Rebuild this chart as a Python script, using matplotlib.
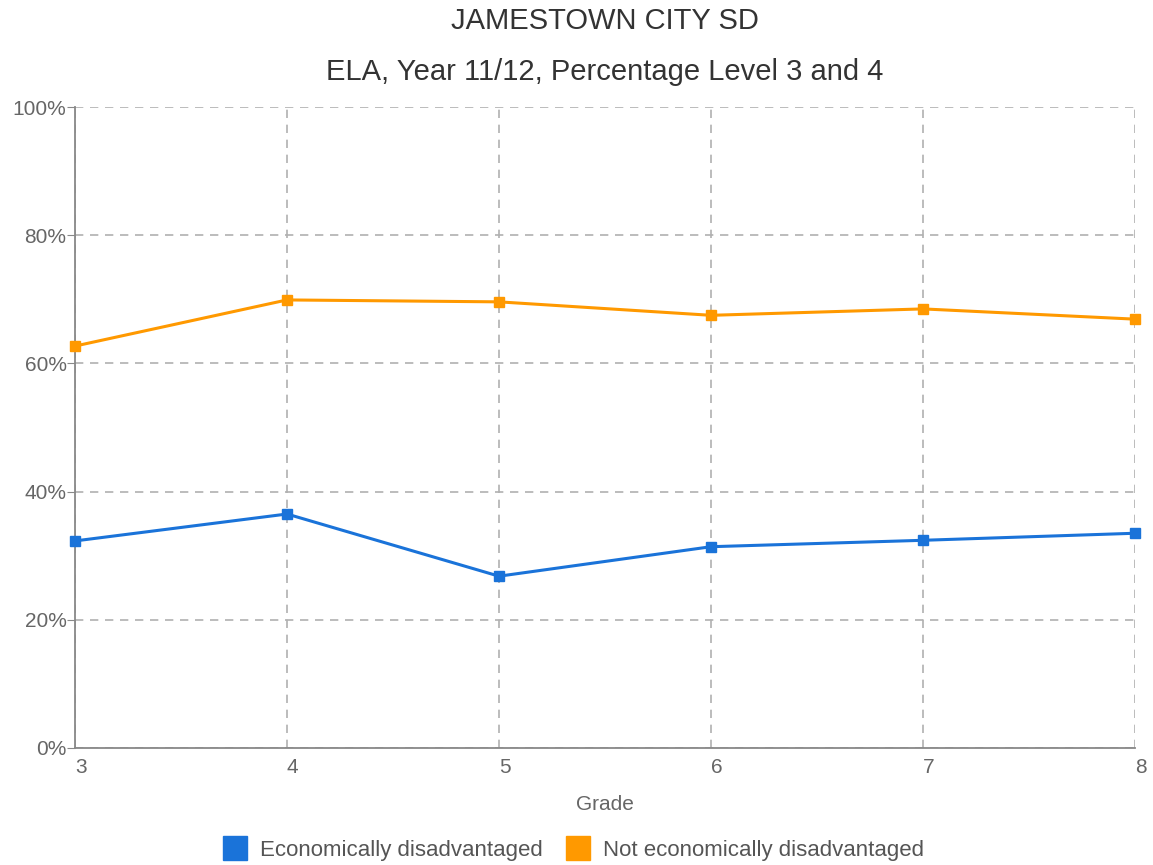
import matplotlib.pyplot as plt
import matplotlib.transforms as mtransforms
from matplotlib.ticker import FuncFormatter

plt.rcParams['font.family'] = ['Liberation Sans', 'DejaVu Sans']

grades = [3, 4, 5, 6, 7, 8]
econ_dis = [32.3, 36.5, 26.8, 31.4, 32.4, 33.5]
not_econ_dis = [62.7, 69.9, 69.6, 67.5, 68.5, 66.9]
series_names = ['Economically disadvantaged', 'Not economically disadvantaged']
colors = ['#1a73d9', '#ff9900']

fig = plt.figure(figsize=(11.53, 8.65), dpi=100)
ax = fig.add_axes([0.065, 0.1353, 0.9195, 0.741])

for vals, name, c in zip([econ_dis, not_econ_dis], series_names, colors):
    ax.plot(grades, vals, color=c, lw=2.2, marker='s', ms=7, label=name,
            clip_on=False, zorder=3)

ax.set_xlim(3, 8)
ax.set_ylim(0, 100)
ax.set_yticks(range(0, 101, 20))
ax.yaxis.set_major_formatter(FuncFormatter(lambda v, p: f'{int(v)}%'))
ax.set_xticks(grades)

ax.grid(True, color='#b0b0b0', ls=(0, (5, 4)), lw=1.2)
for side in ['top', 'right']:
    ax.spines[side].set_visible(False)
for side in ['left', 'bottom']:
    ax.spines[side].set_color('#888888')
    ax.spines[side].set_linewidth(1.3)

ax.tick_params(axis='y', length=6, color='#888888', labelcolor='#666666',
               labelsize=15, pad=0)
ax.tick_params(axis='x', length=0, labelcolor='#666666', labelsize=15, pad=7)
for lbl in ax.get_xticklabels():
    lbl.set_horizontalalignment('left')

ax.set_xlabel('Grade', fontsize=15, color='#666666', labelpad=13)

# titles are centred over the plot area, not the figure
trans = mtransforms.blended_transform_factory(ax.transAxes, fig.transFigure)
ax.text(0.5, 0.976, 'JAMESTOWN CITY SD', transform=trans, ha='center',
        va='center', fontsize=21, color='#333333')
ax.text(0.5, 0.917, 'ELA, Year 11/12, Percentage Level 3 and 4',
        transform=trans, ha='center', va='center', fontsize=21,
        color='#333333')

handles = [plt.Line2D([], [], color=c, marker='s', ls='none', ms=17) for c in colors]
fig.legend(handles, series_names, loc='center', bbox_to_anchor=(0.493, 0.017),
           ncol=2, frameon=False, fontsize=16, labelcolor='#555555',
           handletextpad=0.1, columnspacing=0.6)

fig.savefig('out.png', dpi=100)
